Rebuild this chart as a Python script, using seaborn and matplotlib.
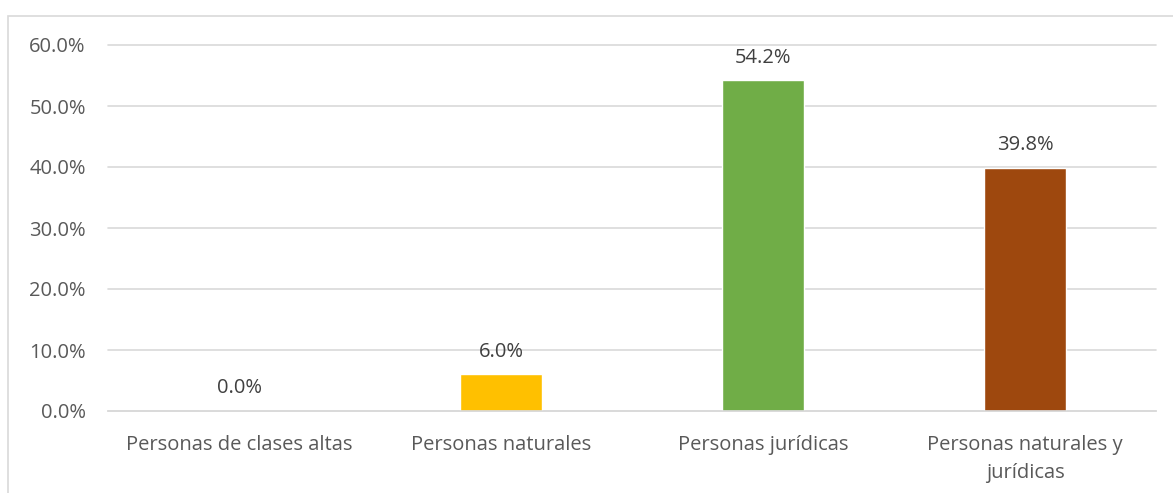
import matplotlib
matplotlib.use("Agg")
import matplotlib.pyplot as plt
import seaborn as sns
import pandas as pd
from matplotlib.patches import Rectangle

categories = ['Personas de clases altas', 'Personas naturales', 'Personas jurídicas',
              'Personas naturales y\njurídicas']
values = [0.0, 6.0, 54.2, 39.8]
colors = ['#4472C4', '#FFC000', '#70AD47', '#9E480E']
yticks = [0, 10, 20, 30, 40, 50, 60]

sns.set_theme(style='white')
plt.rcParams['font.family'] = ['Open Sans', 'DejaVu Sans']

df = pd.DataFrame({'cat': categories, 'val': values})

fig = plt.figure(figsize=(11.73, 4.93), dpi=100)
ax = fig.add_axes([108 / 1173, 1 - 411 / 493, (1156 - 108) / 1173, 366 / 493])

sns.barplot(data=df, x='cat', y='val', hue='cat', palette=colors, legend=False,
            width=0.316, ax=ax, saturation=1)

ax.set_ylim(0, 60)
ax.set_yticks(yticks)
ax.set_yticklabels([f'{t:.1f}%' for t in yticks], color='#595959', fontsize=14.5)
ax.set_xticks(range(len(categories)))
ax.set_xticklabels(categories, color='#595959', fontsize=14.5, linespacing=1.55)
ax.tick_params(axis='x', length=0, pad=17)
ax.tick_params(axis='y', length=0, pad=16)
ax.set_xlabel('')
ax.set_ylabel('')
ax.grid(axis='y', color='#D9D9D9', linewidth=1.2)
for gl in ax.get_ygridlines():
    gl.set_clip_on(False)
ax.set_axisbelow(True)
for s in ['top', 'right', 'left']:
    ax.spines[s].set_visible(False)
ax.spines['bottom'].set_color('#D9D9D9')
ax.spines['bottom'].set_linewidth(1.2)

for i, v in enumerate(values):
    ax.text(i, v + 2.1, f'{v:.1f}%', ha='center', va='bottom', fontsize=14.5, color='#404040')

fig.patches.append(Rectangle((8 / 1173, -0.1), 1.2, 1 - 16 / 493 + 0.1,
                             transform=fig.transFigure, fill=False,
                             edgecolor='#D9D9D9', linewidth=1.2))

fig.savefig('out.png', dpi=100)
